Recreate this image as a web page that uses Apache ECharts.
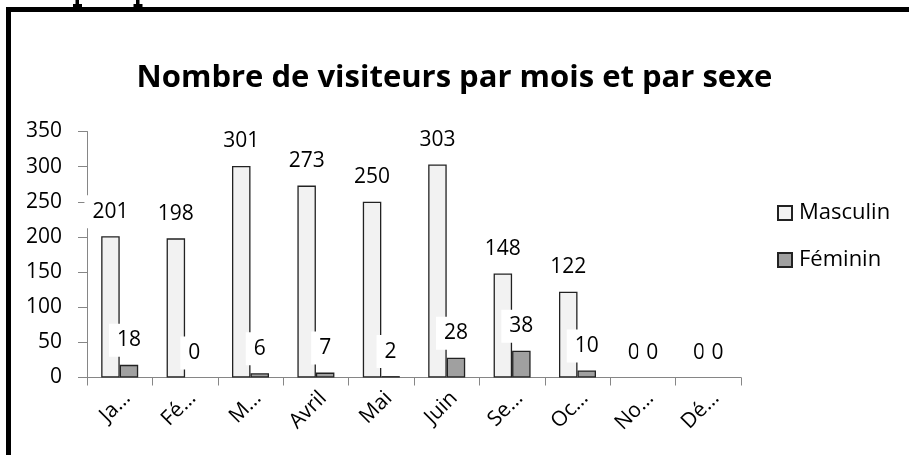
<!DOCTYPE html>
<html>
<head>
<meta charset="utf-8">
<script src="https://cdn.jsdelivr.net/npm/echarts@6/dist/echarts.min.js"></script>
<style>
html,body{margin:0;padding:0;background:#fff;}
#chart{width:909px;height:455px;}
</style>
</head>
<body>
<div id="chart"></div>
<script>
var categories = ['Ja…', 'Fé…', 'M…', 'Avril', 'Mai', 'Juin', 'Se…', 'Oc…', 'No…', 'Dé…'];
var masculin = [201, 198, 301, 273, 250, 303, 148, 122, 0, 0];
var feminin = [18, 0, 6, 7, 2, 28, 38, 10, 0, 0];
var yTicks = [0, 50, 100, 150, 200, 250, 300, 350];
var seriesNames = ['Masculin', 'Féminin'];
var titleText = 'Nombre de visiteurs par mois et par sexe';

var FONT = '"Open Sans"';
var chart = echarts.init(document.getElementById('chart'), null, {renderer: 'canvas'});

var labelStyle = {
  show: true,
  position: 'top',
  distance: 8,
  fontFamily: FONT,
  fontSize: 21,
  color: '#000',
  backgroundColor: '#fff',
  padding: [6, 8]
};

function toItems(arr) {
  return arr.map(function (v) {
    return v === 0 ? {value: v, itemStyle: {borderWidth: 0}} : v;
  });
}

var option = {
  backgroundColor: '#fff',
  animation: false,
  title: {
    text: titleText,
    left: 'center',
    top: 58,
    textStyle: {fontFamily: FONT, fontWeight: 'bold', fontSize: 31, color: '#000'}
  },
  legend: {
    orient: 'vertical',
    left: 772,
    top: 197,
    itemWidth: 14,
    itemHeight: 14,
    itemGap: 25,
    icon: 'rect',
    data: seriesNames,
    textStyle: {fontFamily: FONT, fontSize: 22, color: '#000', padding: [0, 0, 0, 2]}
  },
  grid: {left: 87, right: 168, top: 131.5, bottom: 77.5, containLabel: false},
  xAxis: {
    type: 'category',
    data: categories,
    axisLine: {lineStyle: {color: '#868686', width: 1}},
    axisTick: {show: true, length: 8, lineStyle: {color: '#868686'}},
    axisLabel: {
      rotate: 45,
      fontFamily: FONT,
      fontSize: 21,
      color: '#000',
      margin: 10,
      verticalAlign: 'top',
      interval: 0
    }
  },
  yAxis: {
    type: 'value',
    min: yTicks[0],
    max: yTicks[yTicks.length - 1],
    interval: 50,
    splitLine: {show: false},
    axisLine: {show: true, lineStyle: {color: '#868686', width: 1}},
    axisTick: {show: true, length: 9, lineStyle: {color: '#868686'}},
    axisLabel: {fontFamily: FONT, fontSize: 21, color: '#000', margin: 25}
  },
  series: [
    {
      name: seriesNames[0],
      type: 'bar',
      data: toItems(masculin),
      barWidth: 18.5,
      barGap: '0%',
      itemStyle: {color: '#f2f2f2', borderColor: '#222', borderWidth: 1.3},
      label: labelStyle
    },
    {
      name: seriesNames[1],
      type: 'bar',
      data: toItems(feminin),
      barWidth: 18.5,
      barGap: '0%',
      itemStyle: {color: '#a0a0a0', borderColor: '#222', borderWidth: 1.3},
      label: labelStyle
    }
  ],
  graphic: [
    {type: 'rect', shape: {x: 6, y: 7, width: 910, height: 5}, style: {fill: '#000'}, silent: true},
    {type: 'rect', shape: {x: 6, y: 7, width: 5, height: 460}, style: {fill: '#000'}, silent: true},
    {type: 'rect', shape: {x: 75.5, y: 0, width: 3.5, height: 6}, style: {fill: '#000'}, silent: true},
    {type: 'rect', shape: {x: 73, y: 4, width: 9, height: 3}, style: {fill: '#000'}, silent: true},
    {type: 'rect', shape: {x: 136, y: 0, width: 3.5, height: 6}, style: {fill: '#000'}, silent: true},
    {type: 'rect', shape: {x: 133.5, y: 4, width: 9, height: 3}, style: {fill: '#000'}, silent: true}
  ]
};
chart.setOption(option);
</script>
</body>
</html>
